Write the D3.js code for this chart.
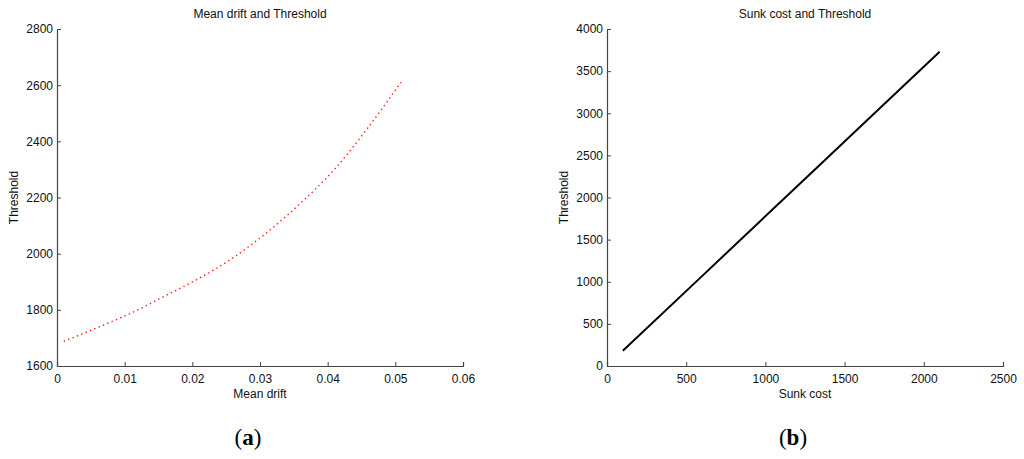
<!DOCTYPE html>
<html>
<head>
<meta charset="utf-8">
<script src="https://cdn.jsdelivr.net/npm/d3@7"></script>
<style>
  body { margin: 0; background: #fff; }
  svg text { font-family: "Liberation Sans", Arial, sans-serif; fill: #111; }
</style>
</head>
<body>
<svg id="chart" width="1024" height="459"></svg>
<script>
// panel (a): mean drift vs threshold
const driftX = [0.001, 0.006, 0.011, 0.016, 0.021, 0.026, 0.031, 0.036, 0.041, 0.046, 0.051];
const driftY = [1688, 1737, 1789, 1850, 1912, 1985, 2075, 2180, 2300, 2450, 2616];
const driftXTicks = [0, 0.01, 0.02, 0.03, 0.04, 0.05, 0.06];
const driftYTicks = [1600, 1800, 2000, 2200, 2400, 2600, 2800];

// panel (b): sunk cost vs threshold
const sunkX = [100, 600, 1100, 1600, 2100];
const sunkY = [180, 1067, 1955, 2842, 3730];
const sunkXTicks = [0, 500, 1000, 1500, 2000, 2500];
const sunkYTicks = [0, 500, 1000, 1500, 2000, 2500, 3000, 3500, 4000];

const svg = d3.select("#chart");

function drawPanel(opt) {
    const x = d3.scaleLinear().domain(opt.xDomain).range([opt.left, opt.right]);
    const y = d3.scaleLinear().domain(opt.yDomain).range([opt.bottom, opt.top]);
    const g = svg.append("g");

    const xAxis = g.append("g")
        .attr("transform", `translate(0,${opt.bottom})`)
        .call(d3.axisBottom(x).tickValues(opt.xTicks).tickSize(-4).tickPadding(8)
            .tickFormat(d3.format("~g")));
    const yAxis = g.append("g")
        .attr("transform", `translate(${opt.left},0)`)
        .call(d3.axisLeft(y).tickValues(opt.yTicks).tickSize(-4).tickPadding(4)
            .tickFormat(d3.format("d")));
    [xAxis, yAxis].forEach(a => {
        a.select(".domain").attr("stroke", "#444").attr("stroke-width", 1.2);
        a.selectAll(".tick line").attr("stroke", "#444");
        a.selectAll("text").attr("font-size", 12).attr("fill", "#111")
            .attr("font-family", '"Liberation Sans", Arial, sans-serif');
    });
    xAxis.selectAll("text").attr("dy", "0.71em").attr("y", 8);

    const line = d3.line()
        .x((d, i) => x(opt.xs[i]))
        .y(d => y(d))
        .curve(d3.curveMonotoneX);
    g.append("path")
        .datum(opt.ys)
        .attr("fill", "none")
        .attr("stroke", opt.color)
        .attr("stroke-width", opt.width)
        .attr("stroke-dasharray", opt.dash)
        .attr("d", line);

    const cx = (opt.left + opt.right) / 2;
    g.append("text")
        .attr("x", cx).attr("y", 18)
        .attr("text-anchor", "middle").attr("font-size", 12)
        .text(opt.title);
    g.append("text")
        .attr("x", cx).attr("y", 398)
        .attr("text-anchor", "middle").attr("font-size", 12)
        .text(opt.xLabel);
    g.append("text")
        .attr("transform", `translate(${opt.left - 39},${(opt.top + opt.bottom) / 2}) rotate(-90)`)
        .attr("text-anchor", "middle").attr("font-size", 12)
        .text("Threshold");
    g.append("text")
        .attr("x", opt.panelX).attr("y", 445)
        .attr("text-anchor", "middle")
        .attr("font-size", 23)
        .style("font-family", '"Liberation Serif", "Times New Roman", serif')
        .style("fill", "#000")
        .html(`(<tspan font-weight="bold">${opt.panel}</tspan>)`);
}

drawPanel({
    left: 57, right: 463, top: 29, bottom: 366,
    xDomain: [0, 0.06], yDomain: [1600, 2800],
    xTicks: driftXTicks, yTicks: driftYTicks,
    xs: driftX, ys: driftY,
    color: "#ff1a1a", width: 1.4, dash: "1.4,3.3",
    title: "Mean drift and Threshold", xLabel: "Mean drift",
    panel: "a", panelX: 248
});

drawPanel({
    left: 607, right: 1003, top: 29, bottom: 366,
    xDomain: [0, 2500], yDomain: [0, 4000],
    xTicks: sunkXTicks, yTicks: sunkYTicks,
    xs: sunkX, ys: sunkY,
    color: "#000", width: 2, dash: null,
    title: "Sunk cost and Threshold", xLabel: "Sunk cost",
    panel: "b", panelX: 793
});
</script>
</body>
</html>
